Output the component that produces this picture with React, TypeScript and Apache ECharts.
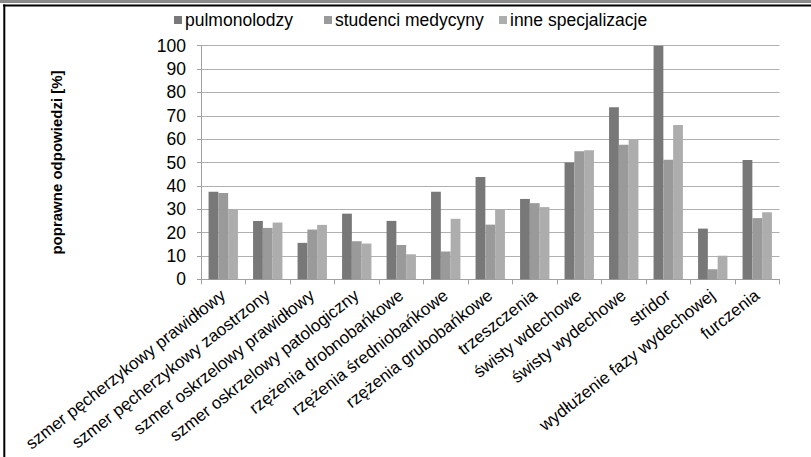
import React, { useEffect, useRef } from "react";
import * as echarts from "echarts";

const categories = [
  "szmer pęcherzykowy prawidłowy",
  "szmer pęcherzykowy zaostrzony",
  "szmer oskrzelowy prawidłowy",
  "szmer oskrzelowy patologiczny",
  "rzężenia drobnobańkowe",
  "rzężenia średniobańkowe",
  "rzężenia grubobańkowe",
  "trzeszczenia",
  "świsty wdechowe",
  "świsty wydechowe",
  "stridor",
  "wydłużenie fazy wydechowej",
  "furczenia",
];

const seriesNames = ["pulmonolodzy", "studenci medycyny", "inne specjalizacje"];

const pulmonolodzy = [37.5, 25, 15.6, 28.1, 25, 37.5, 43.8, 34.4, 50, 73.6, 100, 21.7, 51.1];
const studenci = [36.9, 22, 21.3, 16.3, 14.7, 11.9, 23.4, 32.6, 54.8, 57.6, 51.2, 4.3, 26.2];
const inne = [30, 24.3, 23.3, 15.3, 10.7, 25.9, 30, 30.9, 55.2, 59.8, 66, 10.1, 28.7];

const yTicks = [0, 10, 20, 30, 40, 50, 60, 70, 80, 90, 100];

const colors = ["#787878", "#9a9a9a", "#adadad"];
const FONT = "'Liberation Sans', Arial, sans-serif";

export default function App() {
  const ref = useRef<HTMLDivElement>(null);
  useEffect(() => {
    if (!ref.current) return;
    const chart = echarts.init(ref.current, undefined, { renderer: "svg" });
    const values = [pulmonolodzy, studenci, inne];
    const legendLefts = [169, 319, 494];
    chart.setOption({
      animation: false,
      backgroundColor: "#ffffff",
      textStyle: { fontFamily: FONT },
      legend: seriesNames.map((n, i) => ({
        data: [n],
        left: legendLefts[i],
        top: 6,
        icon: "rect",
        itemWidth: 8,
        itemHeight: 8,
        itemGap: 4,
        textStyle: { fontFamily: FONT, fontSize: 17.5, color: "#000", padding: [0, 0, 0, -2] },
        selectedMode: false,
      })),
      grid: { left: 201, right: 31.5, top: 45.7, bottom: 177.7, containLabel: false },
      xAxis: {
        type: "category",
        data: categories,
        axisLine: { show: true, lineStyle: { color: "#a0a0a0", width: 1 } },
        axisTick: { show: true, length: 5, lineStyle: { color: "#a0a0a0" } },
        axisLabel: {
          interval: 0,
          rotate: 38,
          margin: 14,
          fontSize: 17,
          fontFamily: FONT,
          color: "#000",
        },
      },
      yAxis: {
        type: "value",
        min: yTicks[0],
        max: yTicks[yTicks.length - 1],
        interval: 10,
        name: "poprawne odpowiedzi [%]",
        nameLocation: "middle",
        nameRotate: 90,
        nameGap: 137,
        nameTextStyle: { fontFamily: FONT, fontSize: 15, fontWeight: "bold", color: "#000" },
        axisLine: { show: true, lineStyle: { color: "#a0a0a0", width: 1 } },
        axisTick: { show: true, length: 4, lineStyle: { color: "#a0a0a0" } },
        axisLabel: { fontSize: 17.5, fontFamily: FONT, color: "#000", margin: 15 },
        splitLine: { show: true, lineStyle: { color: "#b0b0b0", width: 1 } },
      },
      series: seriesNames.map((n, i) => ({
        name: n,
        type: "bar",
        data: values[i],
        itemStyle: { color: colors[i] },
        barGap: "0%",
        barCategoryGap: "34%",
      })),
      graphic: [
        { type: "rect", shape: { x: 0, y: 0, width: 811, height: 3 }, style: { fill: "#8a8a8a" } },
        { type: "line", shape: { x1: 3, y1: 5.5, x2: 811, y2: 5.5 }, style: { stroke: "#000", lineWidth: 2 } },
        { type: "line", shape: { x1: 4.3, y1: 4.5, x2: 4.3, y2: 457 }, style: { stroke: "#000", lineWidth: 2 } },
      ],
    });
    return () => chart.dispose();
  }, []);
  return (
    <div
      ref={ref}
      style={{ position: "absolute", left: 0, top: 0, width: 811, height: 457 }}
    />
  );
}
